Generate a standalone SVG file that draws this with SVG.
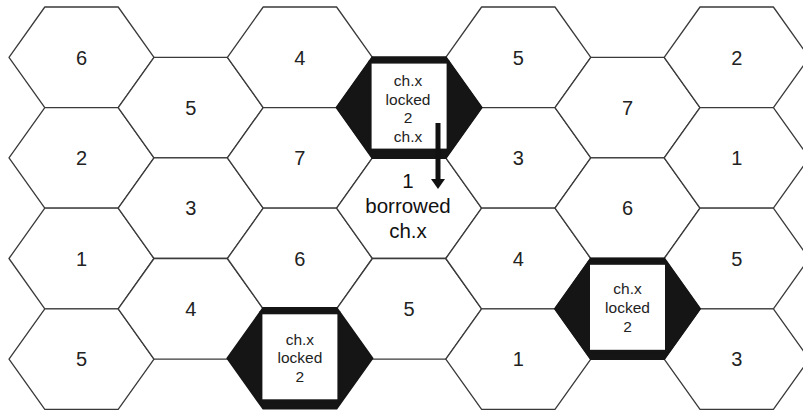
<svg xmlns="http://www.w3.org/2000/svg" xmlns:xlink="http://www.w3.org/1999/xlink" width="803" height="413" viewBox="0 0 803 413">
<style>
.hx{fill:#fff;stroke:#3a3a3a;stroke-width:1.3;stroke-linejoin:round}
.lk{fill:#151515;stroke:#151515;stroke-width:2}
.sq{fill:#fff;stroke:#151515;stroke-width:3}
.n{font-family:"Liberation Sans",Arial,sans-serif;font-size:20px;fill:#222;text-anchor:middle}
.s{font-family:"Liberation Sans",Arial,sans-serif;font-size:15.5px;fill:#222;text-anchor:middle}
.b{font-family:"Liberation Sans",Arial,sans-serif;font-size:20.5px;fill:#111;text-anchor:middle}
.ar{stroke:#111;stroke-width:5;fill:none}
</style>
<defs>
<path id="hex" d="M-72.5,0 L-36.7,-50.3 L36.7,-50.3 L72.5,0 L36.7,50.3 L-36.7,50.3 Z"/>
</defs>
<rect width="803" height="413" fill="#fff"/>
<g id="c0r0"><use xlink:href="#hex" class="hx" x="81.5" y="57.3"/><text class="n" x="81.5" y="64.5">6</text></g>
<g id="c0r1"><use xlink:href="#hex" class="hx" x="81.5" y="157.9"/><text class="n" x="81.5" y="165.1">2</text></g>
<g id="c0r2"><use xlink:href="#hex" class="hx" x="81.5" y="258.5"/><text class="n" x="81.5" y="265.7">1</text></g>
<g id="c0r3"><use xlink:href="#hex" class="hx" x="81.5" y="359.1"/><text class="n" x="81.5" y="366.3">5</text></g>
<g id="c1r0"><use xlink:href="#hex" class="hx" x="190.7" y="107.6"/><text class="n" x="190.7" y="114.8">5</text></g>
<g id="c1r1"><use xlink:href="#hex" class="hx" x="190.7" y="208.2"/><text class="n" x="190.7" y="215.4">3</text></g>
<g id="c1r2"><use xlink:href="#hex" class="hx" x="190.7" y="308.8"/><text class="n" x="190.7" y="316">4</text></g>
<g id="c2r0"><use xlink:href="#hex" class="hx" x="299.9" y="57.3"/><text class="n" x="299.9" y="64.5">4</text></g>
<g id="c2r1"><use xlink:href="#hex" class="hx" x="299.9" y="157.9"/><text class="n" x="299.9" y="165.1">7</text></g>
<g id="c2r2"><use xlink:href="#hex" class="hx" x="299.9" y="258.5"/><text class="n" x="299.9" y="265.7">6</text></g>
<g id="c3r1"><use xlink:href="#hex" class="hx" x="409.1" y="208.2"/><text class="b" x="408" y="188">1</text><text class="b" x="408" y="213.3">borrowed</text><text class="b" x="408" y="238.3">ch.x</text></g>
<g id="c3r2"><use xlink:href="#hex" class="hx" x="409.1" y="308.8"/><text class="n" x="409.1" y="316">5</text></g>
<g id="c4r0"><use xlink:href="#hex" class="hx" x="518.3" y="57.3"/><text class="n" x="518.3" y="64.5">5</text></g>
<g id="c4r1"><use xlink:href="#hex" class="hx" x="518.3" y="157.9"/><text class="n" x="518.3" y="165.1">3</text></g>
<g id="c4r2"><use xlink:href="#hex" class="hx" x="518.3" y="258.5"/><text class="n" x="518.3" y="265.7">4</text></g>
<g id="c4r3"><use xlink:href="#hex" class="hx" x="518.3" y="359.1"/><text class="n" x="518.3" y="366.3">1</text></g>
<g id="c5r0"><use xlink:href="#hex" class="hx" x="627.5" y="107.6"/><text class="n" x="627.5" y="114.8">7</text></g>
<g id="c5r1"><use xlink:href="#hex" class="hx" x="627.5" y="208.2"/><text class="n" x="627.5" y="215.4">6</text></g>
<g id="c6r0"><use xlink:href="#hex" class="hx" x="736.7" y="57.3"/><text class="n" x="736.7" y="64.5">2</text></g>
<g id="c6r1"><use xlink:href="#hex" class="hx" x="736.7" y="157.9"/><text class="n" x="736.7" y="165.1">1</text></g>
<g id="c6r2"><use xlink:href="#hex" class="hx" x="736.7" y="258.5"/><text class="n" x="736.7" y="265.7">5</text></g>
<g id="c6r3"><use xlink:href="#hex" class="hx" x="736.7" y="359.1"/><text class="n" x="736.7" y="366.3">3</text></g>
<g id="c3r0"><use xlink:href="#hex" class="lk" x="409.1" y="107.6"/><rect class="sq" x="370.1" y="62.1" width="78" height="88"/><text class="s" x="408" y="86">ch.x</text><text class="s" x="408" y="104.5">locked</text><text class="s" x="408" y="123">2</text><text class="s" x="408" y="141.5">ch.x</text></g>
<g id="c2r3"><use xlink:href="#hex" class="lk" x="299.9" y="358.3"/><rect class="sq" x="260.9" y="312.8" width="78" height="88"/><text class="s" x="299.9" y="344.5">ch.x</text><text class="s" x="299.9" y="363">locked</text><text class="s" x="299.9" y="381.5">2</text></g>
<g id="c5r2"><use xlink:href="#hex" class="lk" x="627.5" y="308.8"/><rect class="sq" x="588.5" y="263.3" width="78" height="88"/><text class="s" x="627.5" y="294">ch.x</text><text class="s" x="627.5" y="312.5">locked</text><text class="s" x="627.5" y="331.5">2</text></g>
<g id="connectors">
<line class="ar" x1="438" y1="123" x2="438" y2="181"/>
<polygon points="431,179 445,179 438,189" fill="#111"/>
</g>
</svg>
